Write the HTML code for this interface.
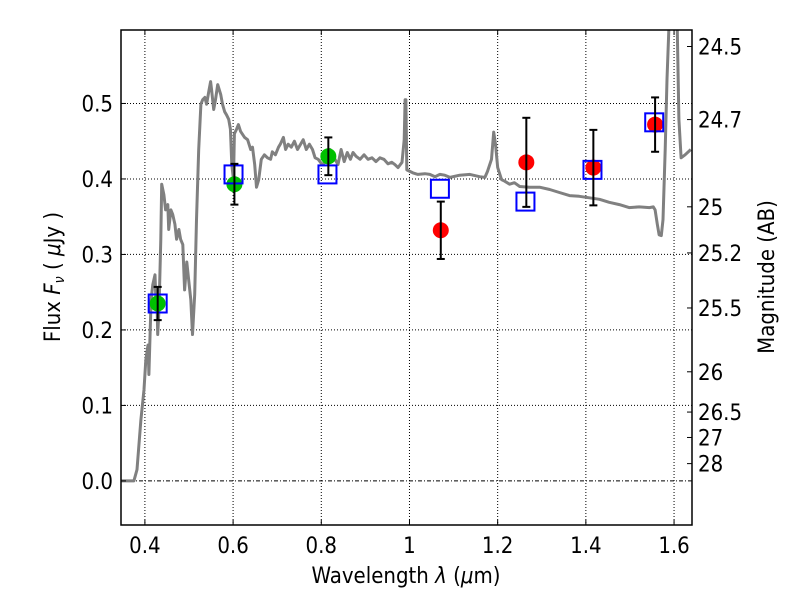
<!DOCTYPE html>
<html><head><meta charset="utf-8"><style>
html,body{margin:0;padding:0;background:#fff;width:800px;height:600px;overflow:hidden}
svg text{font-family:"DejaVu Sans Condensed","DejaVu Sans","Liberation Sans",sans-serif;fill:#000}
</style></head><body>
<svg id="chart" width="800" height="600" viewBox="0 0 800 600" xmlns="http://www.w3.org/2000/svg">
<rect width="800" height="600" fill="#fff"/>
<g id="grid"></g>
<g id="plot"></g>
<g id="axes"></g>
<text x="406" y="583" font-size="22" text-anchor="middle">Wavelength  <tspan font-style="italic">λ</tspan> (<tspan font-style="italic">μ</tspan>m)</text>
<text transform="translate(60,277) rotate(-90)" font-size="22" text-anchor="middle">Flux  <tspan font-style="italic">F</tspan><tspan font-style="italic" font-size="14" dy="4">ν</tspan><tspan dy="-4">  ( </tspan><tspan font-style="italic">μ</tspan>Jy )</text>
<text transform="translate(774,277) rotate(-90)" font-size="22" text-anchor="middle">Magnitude (AB)</text>
</svg>
<script>
const specLam=[0.346,0.375,0.382,0.391,0.398,0.402,0.407,0.409,0.414,0.418,0.423,0.425,0.427,0.429,0.432,0.436,0.438,0.443,0.447,0.452,0.454,0.459,0.463,0.468,0.472,0.477,0.481,0.486,0.490,0.495,0.499,0.504,0.508,0.513,0.517,0.522,0.527,0.531,0.536,0.540,0.545,0.549,0.551,0.556,0.560,0.565,0.572,0.576,0.581,0.585,0.590,0.594,0.597,0.601,0.603,0.608,0.612,0.617,0.626,0.633,0.640,0.644,0.649,0.653,0.658,0.664,0.671,0.678,0.685,0.689,0.696,0.703,0.707,0.714,0.719,0.725,0.732,0.739,0.746,0.753,0.759,0.766,0.773,0.780,0.786,0.793,0.802,0.811,0.820,0.829,0.838,0.845,0.852,0.859,0.866,0.872,0.879,0.888,0.897,0.906,0.915,0.924,0.933,0.942,0.951,0.960,0.967,0.974,0.983,0.988,0.990,0.992,0.994,1.001,1.008,1.019,1.035,1.046,1.058,1.069,1.080,1.092,1.114,1.137,1.159,1.171,1.177,1.186,1.191,1.195,1.200,1.209,1.216,1.227,1.238,1.250,1.272,1.295,1.318,1.340,1.363,1.385,1.408,1.431,1.453,1.476,1.498,1.521,1.544,1.553,1.557,1.562,1.566,1.571,1.575,1.580,1.584,1.589,1.607,1.611,1.616,1.625,1.638];
const specFlux=[0,0,0.015,0.081,0.121,0.160,0.180,0.141,0.240,0.260,0.273,0.240,0.253,0.194,0.227,0.320,0.393,0.379,0.359,0.366,0.333,0.359,0.353,0.340,0.320,0.333,0.320,0.313,0.253,0.290,0.267,0.240,0.194,0.247,0.346,0.439,0.499,0.505,0.508,0.499,0.516,0.529,0.519,0.492,0.505,0.525,0.512,0.499,0.489,0.485,0.479,0.466,0.419,0.399,0.460,0.466,0.472,0.463,0.455,0.452,0.439,0.442,0.419,0.389,0.399,0.426,0.432,0.428,0.426,0.436,0.432,0.442,0.446,0.455,0.439,0.446,0.442,0.450,0.439,0.446,0.452,0.439,0.446,0.439,0.428,0.426,0.419,0.423,0.439,0.428,0.419,0.439,0.423,0.435,0.426,0.435,0.430,0.426,0.432,0.426,0.428,0.423,0.428,0.426,0.420,0.422,0.419,0.415,0.422,0.452,0.505,0.505,0.412,0.410,0.408,0.406,0.407,0.406,0.403,0.406,0.405,0.402,0.405,0.406,0.403,0.402,0.410,0.426,0.462,0.446,0.415,0.399,0.397,0.393,0.395,0.390,0.389,0.389,0.386,0.382,0.378,0.377,0.375,0.373,0.369,0.366,0.362,0.363,0.362,0.363,0.359,0.340,0.326,0.325,0.346,0.439,0.532,0.611,0.611,0.479,0.428,0.432,0.439];
const obsLam=[0.429,0.603,0.816,1.071,1.265,1.417,1.557];
const obsFlux=[0.235,0.393,0.430,0.332,0.422,0.415,0.472];
const obsErr=[0.022,0.027,0.025,0.038,0.059,0.050,0.036];
const obsColor=['#00c000','#00c000','#00c000','#ff0000','#ff0000','#ff0000','#ff0000'];
const modelLam=[0.429,0.601,0.814,1.069,1.263,1.415,1.555];
const modelFlux=[0.235,0.406,0.406,0.387,0.370,0.412,0.475];
const xTicks=[0.4,0.6,0.8,1.0,1.2,1.4,1.6];
const xTickLabels=['0.4','0.6','0.8','1','1.2','1.4','1.6'];
const yTicks=[0,0.1,0.2,0.3,0.4,0.5];
const yTickLabels=['0.0','0.1','0.2','0.3','0.4','0.5'];
const magTicks=[24.5,24.7,25,25.2,25.5,26,26.5,27,28];

const L=121,R=692,T=30,B=525;
const xMin=0.3458,xMax=1.6407,yMin=-0.0584,yMax=0.5973;
const X=v=>L+(v-xMin)/(xMax-xMin)*(R-L);
const Y=v=>B-(v-yMin)/(yMax-yMin)*(B-T);
const NS='http://www.w3.org/2000/svg';
function mk(tag,attrs,parent){const e=document.createElementNS(NS,tag);for(const k in attrs)e.setAttribute(k,attrs[k]);parent.appendChild(e);return e;}
const grid=document.getElementById('grid'),plot=document.getElementById('plot'),axes=document.getElementById('axes');

xTicks.forEach((t,i)=>{
 const g=mk('line',{x1:X(t),x2:X(t),y1:T,y2:B,stroke:'#000','stroke-width':1,'stroke-dasharray':'1,2'},grid);
 
 
 mk('line',{x1:X(t),x2:X(t),y1:B,y2:B-5,stroke:'#000'},axes);
 mk('line',{x1:X(t),x2:X(t),y1:T,y2:T+5,stroke:'#000'},axes);
 const tx=mk('text',{x:X(t),y:B+28,'font-size':22,'text-anchor':'middle'},axes);
 tx.textContent=xTickLabels[i];
 
 
});
yTicks.forEach((t,i)=>{
 if(t!==0){const g=mk('line',{x1:L,x2:R,y1:Y(t),y2:Y(t),stroke:'#000','stroke-width':1,'stroke-dasharray':'1,2'},grid);
 
 }
 mk('line',{x1:L,x2:L+5,y1:Y(t),y2:Y(t),stroke:'#000'},axes);
 const tx=mk('text',{x:L-8,y:Y(t)+8,'font-size':22,'text-anchor':'end'},axes);
 tx.textContent=yTickLabels[i];
 
 
});
const zl=mk('line',{x1:L,x2:R,y1:Y(0),y2:Y(0),stroke:'#000','stroke-width':1,'stroke-dasharray':'4,2,1,2'},grid);


magTicks.forEach(m=>{
 const f=Math.pow(10,(23.9-m)/2.5);
 mk('line',{x1:R,x2:R-5,y1:Y(f),y2:Y(f),stroke:'#000'},axes);
 const tx=mk('text',{x:R+6,y:Y(f)+8,'font-size':22},axes);
 tx.textContent=String(m);
 
 
});

const clip=mk('clipPath',{id:'c'},plot);mk('rect',{x:L,y:T,width:R-L,height:B-T},clip);
let d='';specLam.forEach((l,i)=>{d+=(i?'L':'M')+X(l).toFixed(1)+','+Y(specFlux[i]).toFixed(1);});
const sp=mk('path',{d:d,fill:'none',stroke:'#808080','stroke-width':3,'stroke-linejoin':'round','clip-path':'url(#c)'},plot);



obsLam.forEach((l,i)=>{
 const c=mk('circle',{cx:X(l),cy:Y(obsFlux[i]),r:8,fill:obsColor[i]},plot);
 
 
});
modelLam.forEach((l,i)=>{
 const s=mk('rect',{x:X(l)-9,y:Y(modelFlux[i])-9,width:18,height:18,fill:'none',stroke:'#0000ff','stroke-width':2},plot);
 
 
});
obsLam.forEach((l,i)=>{
 const x=X(l),y1=Y(obsFlux[i]+obsErr[i]),y2=Y(obsFlux[i]-obsErr[i]);
 const g=mk('g',{stroke:'#000','stroke-width':2},plot);
 
 
 mk('line',{x1:x,x2:x,y1:y1,y2:y2},g);
 mk('line',{x1:x-4,x2:x+4,y1:y1,y2:y1},g);
 mk('line',{x1:x-4,x2:x+4,y1:y2,y2:y2},g);
});
const fr=mk('rect',{x:L,y:T,width:R-L,height:B-T,fill:'none',stroke:'#000','stroke-width':1.5},axes);


</script>
</body></html>
